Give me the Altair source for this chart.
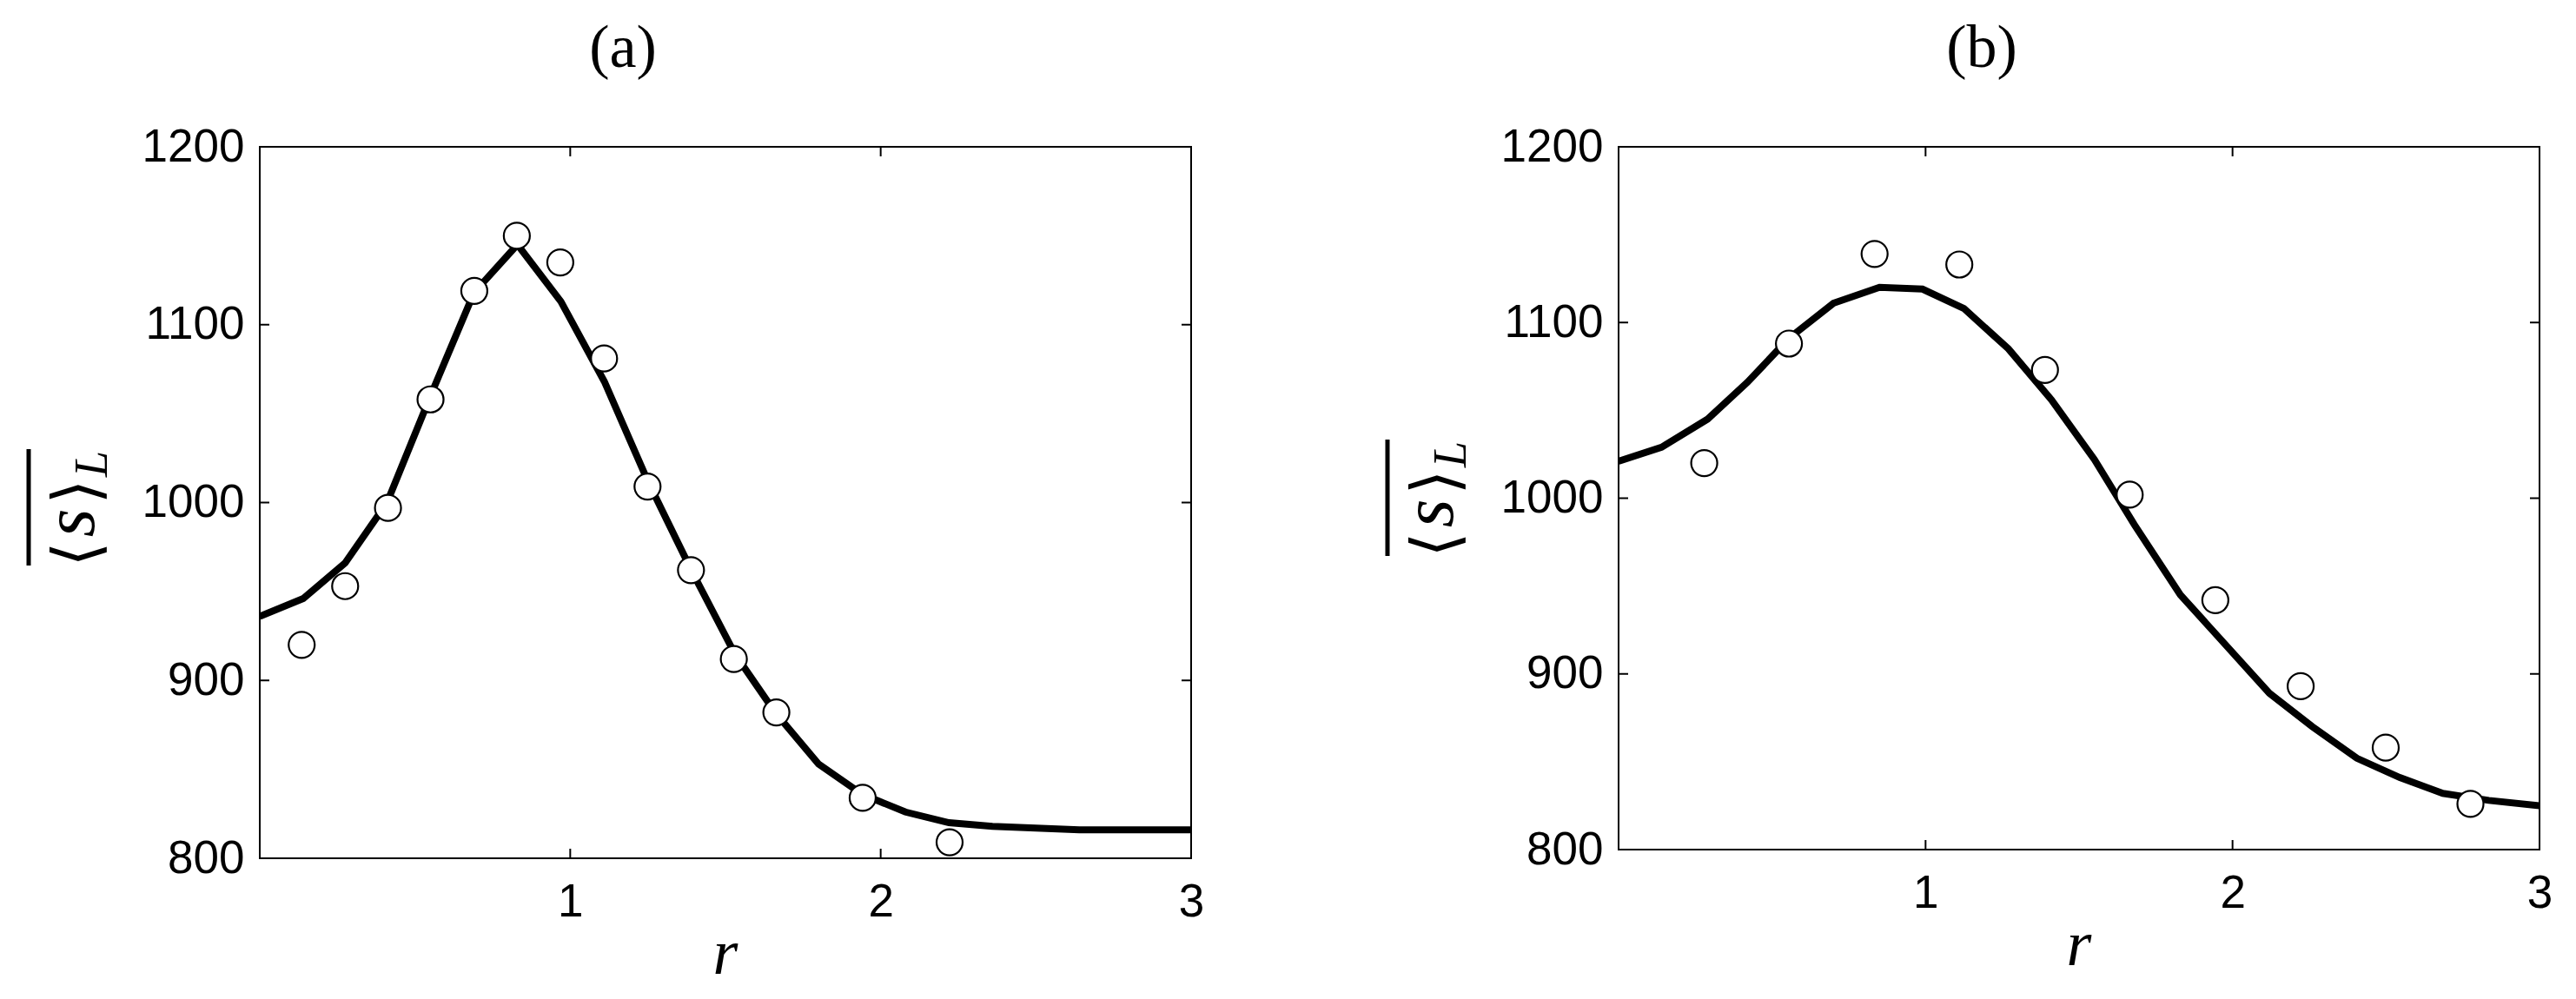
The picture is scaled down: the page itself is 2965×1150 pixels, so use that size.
import altair as alt
import pandas as pd

# ---------------- data ----------------
X_TICKS = [1, 2, 3]
Y_TICKS = [800, 900, 1000, 1100, 1200]
X_DOMAIN = [0, 3]
Y_DOMAIN = [800, 1200]

# panel (a)
a_curve_x = [0.0, 0.14, 0.275, 0.41, 0.55, 0.69, 0.83, 0.97, 1.11, 1.25, 1.39, 1.53,
             1.66, 1.80, 1.94, 2.08, 2.22, 2.36, 2.50, 2.64, 2.78, 2.92, 3.0]
a_curve_y = [936, 946, 966, 1000, 1060, 1118, 1145, 1113, 1068, 1012, 962, 915,
             882, 853, 836, 826, 820, 818, 817, 816, 816, 816, 816]
a_pts_x = [0.135, 0.275, 0.413, 0.55, 0.691, 0.828, 0.968, 1.109, 1.249, 1.389,
           1.527, 1.664, 1.942, 2.222]
a_pts_y = [920, 953, 997, 1058, 1119, 1150, 1135, 1081, 1009, 962, 912, 882, 834, 809]

# panel (b)
b_curve_x = [0.0, 0.14, 0.29, 0.42, 0.555, 0.70, 0.85, 0.99, 1.125, 1.27, 1.41, 1.55,
             1.68, 1.83, 1.975, 2.12, 2.26, 2.405, 2.545, 2.685, 2.835, 3.0]
b_curve_y = [1021, 1029, 1045, 1066, 1091, 1111, 1120, 1119, 1108, 1085, 1056, 1022,
             985, 945, 917, 889, 870, 852, 841, 832, 828, 825]
b_pts_x = [0.279, 0.555, 0.834, 1.110, 1.389, 1.665, 1.944, 2.222, 2.499, 2.775]
b_pts_y = [1020, 1088, 1139, 1133, 1073, 1002, 942, 893, 858, 826]

TITLES = ["(a)", "(b)"]

# ---------------- style ----------------
SANS = "Liberation Sans, Arial, Helvetica, sans-serif"
SERIF = "Liberation Serif, Times New Roman, serif"
TICK = 11


def txt(s, x, y, **kw):
    return alt.Chart(pd.DataFrame({"t": [s]})).mark_text(color="black", **kw).encode(
        text="t:N", x=alt.value(x), y=alt.value(y))


def panel(cx, cy, px, py, title, W, H, yc, anchor=False):
    xs = alt.Scale(domain=X_DOMAIN, nice=False, zero=False)
    ys = alt.Scale(domain=Y_DOMAIN, nice=False, zero=False)
    xaxis = alt.Axis(values=X_TICKS, title=None, grid=False, domain=False, ticks=False,
                     tickSize=0, labelFont=SANS, labelFontSize=53, labelPadding=24,
                     labelFlush=False, labelOverlap=False, labelColor="black", format="d")
    yaxis = alt.Axis(values=Y_TICKS, title=None, grid=False, domain=False, ticks=False,
                     tickSize=0, labelFont=SANS, labelFontSize=53, labelPadding=18,
                     labelFlush=False, labelOverlap=False, labelColor="black", format="d")
    X = alt.X("r:Q", scale=xs, axis=xaxis)
    Y = alt.Y("s:Q", scale=ys, axis=yaxis)
    curve = pd.DataFrame({"r": cx, "s": cy})
    pts = pd.DataFrame({"r": px, "s": py})

    line = alt.Chart(curve).mark_line(color="black", strokeWidth=8, clip=True).encode(x=X, y=Y)
    dots = alt.Chart(pts).mark_circle(fill="white", stroke="black", strokeWidth=2.2,
                                      size=900, opacity=1).encode(x=X, y=Y)

    yt = pd.DataFrame({"s": Y_TICKS})
    xt = pd.DataFrame({"r": X_TICKS})
    tl = alt.Chart(yt).mark_rule(color="black", strokeWidth=2).encode(
        y=Y, x=alt.value(0), x2=alt.value(TICK))
    tr = alt.Chart(yt).mark_rule(color="black", strokeWidth=2).encode(
        y=Y, x=alt.value(W - TICK), x2=alt.value(W))
    tb = alt.Chart(xt).mark_rule(color="black", strokeWidth=2).encode(
        x=X, y=alt.value(H - TICK), y2=alt.value(H))
    tt = alt.Chart(xt).mark_rule(color="black", strokeWidth=2).encode(
        x=X, y=alt.value(0), y2=alt.value(TICK))

    ttl = txt(title, 418, -92, font=SERIF, fontSize=70, align="center", baseline="alphabetic")
    xlab = txt("r", W / 2, H + 133, font=SERIF, fontStyle="italic", fontSize=74,
               align="center", baseline="alphabetic")
    lb = txt("⟨", -186, yc + 54, font="DejaVu Serif, DejaVu Sans", fontSize=74,
             angle=270, align="center", baseline="alphabetic")
    ls = txt("s", -191, yc + 18, font=SERIF, fontStyle="italic", fontSize=84,
             angle=270, align="center", baseline="alphabetic")
    rb = txt("⟩", -186, yc - 18, font="DejaVu Serif, DejaVu Sans", fontSize=74,
             angle=270, align="center", baseline="alphabetic")
    ysub = txt("L", -176, yc - 50, font=SERIF, fontStyle="italic", fontSize=54,
               angle=270, align="center", baseline="alphabetic")
    bar = alt.Chart(pd.DataFrame({"k": [0]})).mark_rule(color="black", strokeWidth=5).encode(
        x=alt.value(-266), x2=alt.value(-266), y=alt.value(yc - 67), y2=alt.value(yc + 67))

    layers = [line, dots, tl, tr, tb, tt, ttl, xlab, lb, ls, rb, ysub, bar]
    if anchor:
        anc = alt.Chart(pd.DataFrame({"k": [0]})).mark_rule(
            color="white", strokeWidth=1, strokeOpacity=0).encode(
            x=alt.value(-290), x2=alt.value(-290), y=alt.value(-160), y2=alt.value(-150))
        layers.append(anc)
    return alt.layer(*layers).properties(width=W, height=H)


pa = panel(a_curve_x, a_curve_y, a_pts_x, a_pts_y, TITLES[0], 1072, 819, 415, anchor=True)
pb = panel(b_curve_x, b_curve_y, b_pts_x, b_pts_y, TITLES[1], 1060, 809, 404)

chart = alt.hconcat(pa, pb, spacing=492, bounds="flush").configure_view(
    stroke="black", strokeWidth=2).properties(padding=0, background="white")

chart.save("out.html", embed_options={"renderer": "svg", "actions": False})
